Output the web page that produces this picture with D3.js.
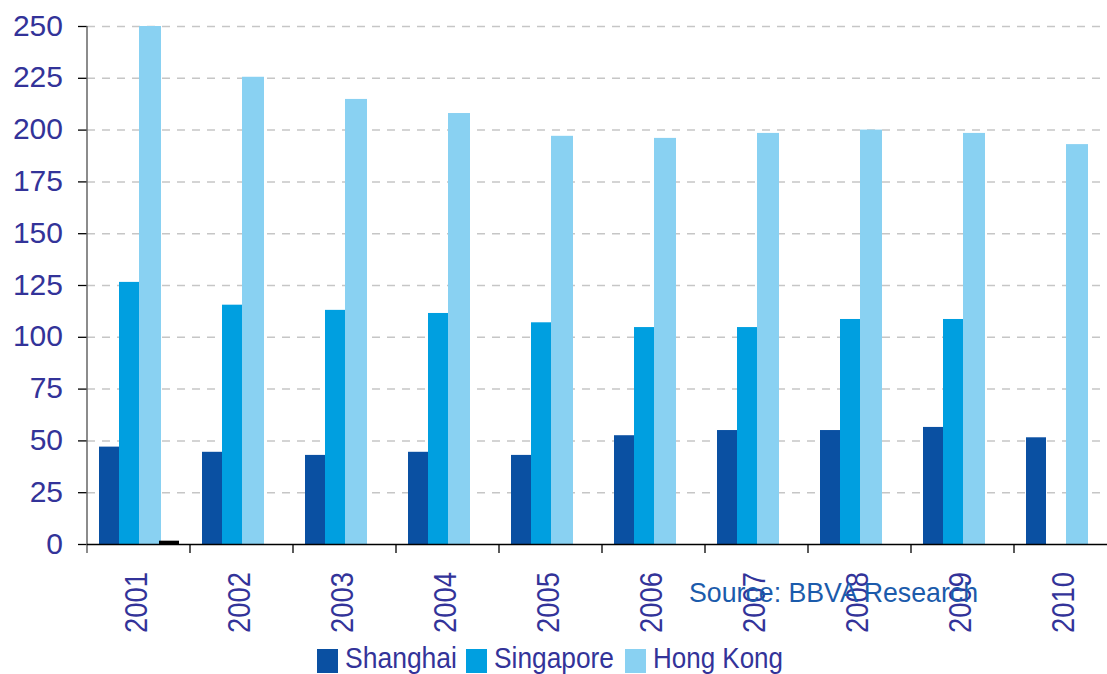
<!DOCTYPE html>
<html>
<head>
<meta charset="utf-8">
<script src="https://cdn.jsdelivr.net/npm/d3@7"></script>
<style>
  html, body { margin: 0; padding: 0; background: #fff; }
  svg { display: block; font-family: "Liberation Sans", Arial, sans-serif; }
</style>
</head>
<body>
<svg id="chart" width="1107" height="674"></svg>
<script>
const categories = ['2001','2002','2003','2004','2005','2006','2007','2008','2009','2010'];
const shanghai  = [47, 44.5, 43, 44.5, 43, 52.5, 55, 55, 56.5, 51.5];
const singapore = [126.5, 115.5, 113, 111.5, 107, 104.7, 104.7, 108.6, 108.6, null];
const hongKong  = [250, 225.5, 214.8, 208, 197, 196, 198.4, 200, 198.4, 193];
const other     = [1.6, null, null, null, null, null, null, null, null, null];
const yTicks = [0, 25, 50, 75, 100, 125, 150, 175, 200, 225, 250];
const legendNames = ['Shanghai', 'Singapore', 'Hong Kong'];
const sourceText = 'Source: BBVA Research';

(function () {
const colors = ['#0A50A2', '#009FE0', '#89D1F2', '#000000'];
const textColor = '#333399';

const svg = d3.select('#chart');
const pLeft = 87, pTop = 26, pBottom = 544, bandW = 103;

const x = d3.scaleBand().domain(categories).range([pLeft, pLeft + bandW * categories.length]).paddingInner(0).paddingOuter(0);
const y = d3.scaleLinear().domain([0, 250]).range([pBottom, pTop]);
const inner = d3.scaleBand().domain(d3.range(4)).range([12, bandW - 11]).padding(0);

// gridlines
svg.append('g').selectAll('line').data(yTicks.filter(d => d > 0)).join('line')
  .attr('x1', pLeft).attr('x2', 1107)
  .attr('y1', d => y(d) + 0.5).attr('y2', d => y(d) + 0.5)
  .attr('stroke', '#c6c6c6').attr('stroke-width', 1.5)
  .attr('stroke-dasharray', '8,7');

// bars
const seriesData = [shanghai, singapore, hongKong, other];
seriesData.forEach((vals, si) => {
  svg.append('g').selectAll('rect')
    .data(categories.map((c, i) => ({c, v: vals[i]})).filter(d => d.v != null))
    .join('rect')
    .attr('x', d => x(d.c) + inner(si))
    .attr('width', inner.bandwidth() + (si === 2 ? 2 : 0))
    .attr('y', d => y(d.v))
    .attr('height', d => y(0) - y(d.v))
    .attr('fill', colors[si]);
});

// y axis
const yAxis = d3.axisLeft(y).tickValues(yTicks).tickSize(9).tickPadding(15);
const gy = svg.append('g').attr('transform', `translate(${pLeft},0)`).call(yAxis);
gy.select('.domain').remove();
gy.selectAll('.tick line').attr('stroke', '#000').attr('stroke-width', 1.3);
gy.selectAll('.tick text')
  .attr('fill', textColor).attr('font-size', 30)
  .attr('font-family', '"Liberation Sans", Arial, sans-serif')
  .attr('dy', '0.3em');
svg.append('line').attr('x1', pLeft).attr('x2', pLeft).attr('y1', pTop).attr('y2', pBottom + 9)
  .attr('stroke', '#666').attr('stroke-width', 1.5);

// x axis
svg.append('line').attr('x1', pLeft).attr('x2', 1107).attr('y1', pBottom + 0.5).attr('y2', pBottom + 0.5)
  .attr('stroke', '#000').attr('stroke-width', 1.5);
svg.append('g').selectAll('line').data(categories.slice(1)).join('line')
  .attr('x1', d => x(d)).attr('x2', d => x(d))
  .attr('y1', pBottom).attr('y2', pBottom + 9)
  .attr('stroke', '#000').attr('stroke-width', 1.3);
svg.append('g').selectAll('text').data(categories).join('text')
  .attr('transform', d => `translate(${x(d) + x.bandwidth() / 2 - 3}, 572) rotate(-90)`)
  .attr('text-anchor', 'end')
  .attr('dy', '0.36em')
  .attr('fill', textColor).attr('font-size', 32)
  .attr('textLength', 61).attr('lengthAdjust', 'spacingAndGlyphs')
  .text(d => d);

// source
svg.append('text').attr('x', 689).attr('y', 602)
  .attr('fill', '#1B5BAB').attr('font-size', 28)
  .attr('textLength', 289).attr('lengthAdjust', 'spacingAndGlyphs')
  .text(sourceText);

// legend
const legendX = [317, 466, 625];
const legendW = [112, 120, 130];
const lg = svg.append('g');
legendNames.forEach((n, i) => {
  lg.append('rect').attr('x', legendX[i]).attr('y', 649).attr('width', 21).attr('height', 24).attr('fill', colors[i]);
  lg.append('text').attr('x', legendX[i] + 28).attr('y', 668)
    .attr('fill', textColor).attr('font-size', 30)
    .attr('textLength', legendW[i]).attr('lengthAdjust', 'spacingAndGlyphs')
    .text(n);
});
})();
</script>
</body>
</html>
